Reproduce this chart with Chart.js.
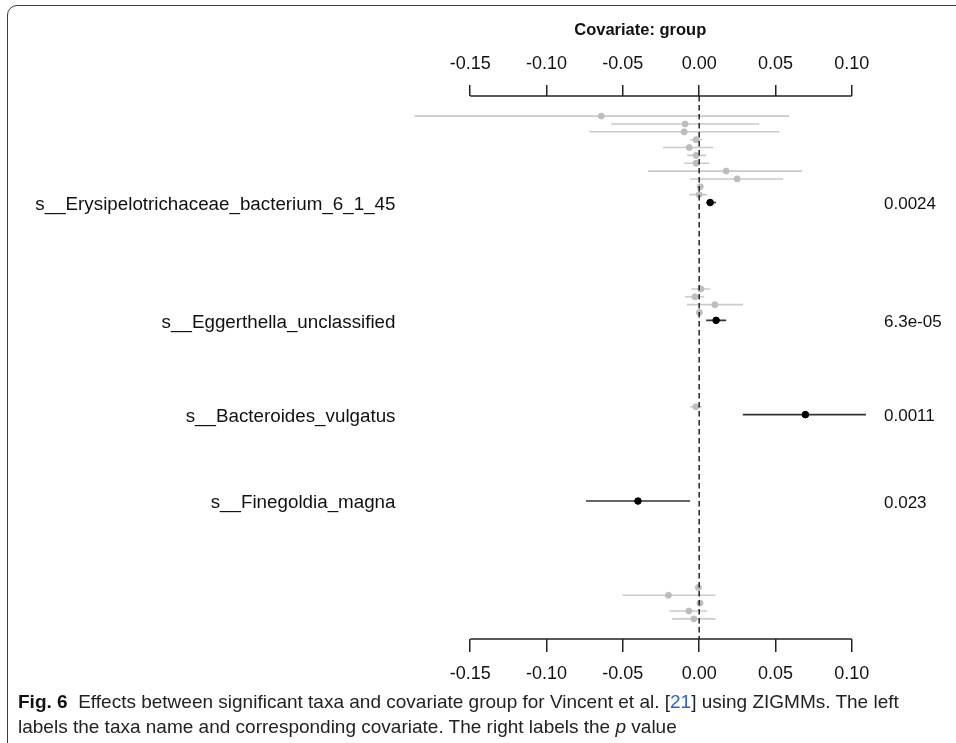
<!DOCTYPE html>
<html>
<head>
<meta charset="utf-8">
<script src="https://cdn.jsdelivr.net/npm/chart.js@4.4.1/dist/chart.umd.min.js"></script>
<style>
  html, body { margin: 0; padding: 0; background: #fff; overflow: hidden; }
  body { width: 956px; height: 743px; position: relative; }
  #frame {
    position: absolute; left: 7px; top: 5px; width: 1200px; height: 1200px;
    border: 1.5px solid #3c3c3c; border-top-left-radius: 10px;
  }
  #chart { position: absolute; left: 0; top: 0; }
  #caption {
    position: absolute; left: 18px; top: 689px; width: 935px;
    font-family: "Liberation Sans", Arial, sans-serif;
    font-size: 19px; line-height: 25px; color: #222; white-space: nowrap;
  }
  #caption b { color: #111; }
  #caption .ref { color: #2a62d8; }
</style>
</head>
<body>
<div id="frame"></div>
<canvas id="chart" width="956" height="700"></canvas>
<div id="caption"><b>Fig. 6</b>&nbsp; Effects between significant taxa and covariate group for Vincent et al. [<span class="ref">21</span>] using ZIGMMs. The left<br>labels the taxa name and corresponding covariate. The right labels the <i>p</i> value</div>

<script>
// x axis
const xMin = -0.1983;
const xMax = 0.1211;
const xTicks = [-0.15, -0.10, -0.05, 0.00, 0.05, 0.10];
const xTickLabels = ["-0.15", "-0.10", "-0.05", "0.00", "0.05", "0.10"];

// rows run top to bottom
const yMin = -2.56;
const yMax = 66.56;

// other covariates (grey)
const greyRows = [0, 1, 2, 3, 4, 5, 6, 7, 8, 9, 10, 22, 23, 24, 25, 37, 60, 61, 62, 63, 64];
const greyEst = [-0.0641, -0.0092, -0.0098, -0.0020, -0.0065, -0.0020, -0.0020, 0.0177, 0.0249, 0.0007, 0.0000,
                 0.0011, -0.0028, 0.0103, 0.0002, -0.0022, -0.0005, -0.0201, 0.0005, -0.0067, -0.0035];
const greyLow = [-0.1865, -0.0576, -0.0720, -0.0059, -0.0236, -0.0079, -0.0098, -0.0334, -0.0059, 0.0000, -0.0065,
                 -0.0052, -0.0092, -0.0079, 0.0002, -0.0059, -0.0005, -0.0502, -0.0015, -0.0194, -0.0177];
const greyHigh = [0.0589, 0.0393, 0.0524, 0.0020, 0.0092, 0.0046, 0.0065, 0.0674, 0.0550, 0.0013, 0.0052,
                  0.0072, 0.0033, 0.0288, 0.0002, 0.0018, -0.0005, 0.0107, 0.0028, 0.0050, 0.0107];

// significant taxa (black)
const sigRows = [11, 26, 38, 49];
const sigEst = [0.0072, 0.0111, 0.0696, -0.0401];
const sigLow = [0.0046, 0.0046, 0.0286, -0.0741];
const sigHigh = [0.0111, 0.0177, 0.1093, -0.0059];
const taxa = [
    "s__Erysipelotrichaceae_bacterium_6_1_45",
    "s__Eggerthella_unclassified",
    "s__Bacteroides_vulgatus",
    "s__Finegoldia_magna"
];
const pValues = ["0.0024", "6.3e-05", "0.0011", "0.023"];

function segments(rows, low, high) {
    const pts = [];
    rows.forEach((r, i) => {
        pts.push({ x: low[i], y: r }, { x: high[i], y: r }, { x: null, y: null });
    });
    return pts;
}

function points(rows, est) {
    return rows.map((r, i) => ({ x: est[i], y: r }));
}

const textColor = "#111";
const axisColor = "#222";

// R draws the axis line only from first to last tick
const axisLines = {
    id: "axisLines",
    afterDraw(chart) {
        const ctx = chart.ctx;
        ctx.save();
        ctx.strokeStyle = axisColor;
        ctx.lineWidth = 1.5;
        ["x", "x2"].forEach(id => {
            const s = chart.scales[id];
            const y = s.position === "top" ? s.bottom : s.top;
            ctx.beginPath();
            ctx.moveTo(s.getPixelForValue(xTicks[0]), y);
            ctx.lineTo(s.getPixelForValue(xTicks[xTicks.length - 1]), y);
            ctx.stroke();
        });
        ctx.restore();
    }
};

function xAxis(position, tickLength, padding, height) {
    return {
        type: "linear",
        position,
        min: xMin,
        max: xMax,
        afterBuildTicks: s => { s.ticks = xTicks.map(v => ({ value: v })); },
        afterFit: s => { s.height = height; },
        grid: { drawOnChartArea: false, drawTicks: true, tickLength, color: axisColor, lineWidth: 1.5 },
        border: { display: false },
        ticks: {
            autoSkip: false,
            maxRotation: 0,
            padding,
            color: textColor,
            font: { family: "Liberation Sans, Arial, sans-serif", size: 18 },
            callback: (v, i) => xTickLabels[i]
        }
    };
}

function yAxis(position, labels, width, size, padding) {
    return {
        type: "linear",
        display: true,
        position,
        reverse: true,
        min: yMin,
        max: yMax,
        afterBuildTicks: s => { s.ticks = sigRows.map(v => ({ value: v + 0.25 })); },
        afterFit: s => { s.width = width; },
        grid: { display: false, drawTicks: false },
        border: { display: false },
        ticks: {
            autoSkip: false,
            padding,
            color: textColor,
            font: { family: "Liberation Sans, Arial, sans-serif", size },
            callback: (v, i) => labels[i]
        }
    };
}

const topAxis = xAxis("top", 11, 10, 96);
topAxis.title = {
    display: true,
    text: "Covariate: group",
    color: textColor,
    font: { family: "Liberation Sans, Arial, sans-serif", size: 16.5, weight: "bold" },
    padding: { top: 21, bottom: 0 }
};

new Chart(document.getElementById("chart"), {
    type: "scatter",
    data: {
        datasets: [
            {
                label: "significant",
                data: points(sigRows, sigEst),
                backgroundColor: "#000",
                borderColor: "#000",
                pointRadius: 3.3,
                order: 1
            },
            {
                type: "line",
                label: "significant CI",
                data: segments(sigRows, sigLow, sigHigh),
                borderColor: "#333",
                borderWidth: 1.6,
                pointRadius: 0,
                spanGaps: false,
                order: 2
            },
            {
                type: "line",
                label: "zero",
                data: [{ x: 0, y: yMin }, { x: 0, y: yMax }],
                borderColor: "#222",
                borderWidth: 1.5,
                borderDash: [5.5, 3.5],
                pointRadius: 0,
                order: 3
            },
            {
                label: "other",
                data: points(greyRows, greyEst),
                backgroundColor: "#bdbdbd",
                borderColor: "#bdbdbd",
                pointRadius: 3,
                order: 4
            },
            {
                type: "line",
                label: "other CI",
                data: segments(greyRows, greyLow, greyHigh),
                borderColor: "#cacaca",
                borderWidth: 1.6,
                pointRadius: 0,
                spanGaps: false,
                order: 5
            }
        ]
    },
    options: {
        responsive: false,
        animation: false,
        layout: { padding: 0 },
        plugins: {
            legend: { display: false },
            tooltip: { enabled: false }
        },
        scales: {
            x: topAxis,
            x2: xAxis("bottom", 13, 11, 61),
            y: yAxis("left", taxa, 396.5, 18.8, 1),
            y2: yAxis("right", pValues, 72, 17, 0)
        }
    },
    plugins: [axisLines]
});
</script>
</body>
</html>
